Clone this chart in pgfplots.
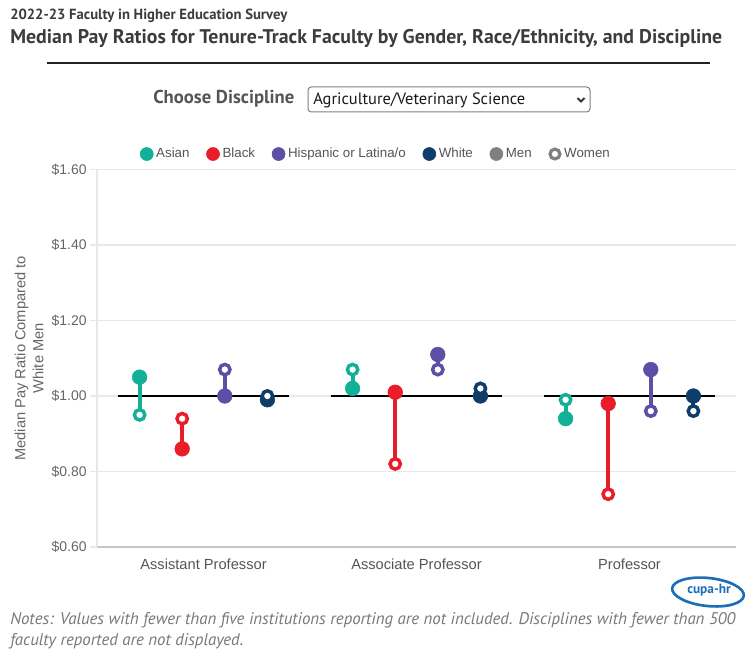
\documentclass[border=0pt]{standalone}
\usepackage{fontspec}
\setmainfont{Liberation Sans}
\newfontfamily\ptsans{PT Sans}
\usepackage{graphicx}
\usepackage{pgfplots}
\pgfplotsset{compat=1.18}
\usepackage{pgfplotstable}

\definecolor{asian}{RGB}{18,176,150}
\definecolor{blackc}{RGB}{232,29,41}
\definecolor{hisp}{RGB}{91,80,165}
\definecolor{whitec}{RGB}{14,61,105}
\definecolor{mengray}{RGB}{128,128,128}
\definecolor{tickgray}{RGB}{102,102,102}
\definecolor{xgray}{RGB}{85,85,85}
\definecolor{gridc}{RGB}{232,232,232}
\definecolor{titlec}{RGB}{60,60,60}
\definecolor{notec}{RGB}{120,120,120}
\definecolor{logoc}{RGB}{30,110,180}

% columns: x position, men ratio, women ratio
\pgfplotstableread{
x men women
-0.3 1.05 0.95
0.7 1.02 1.07
1.7 0.94 0.99
}\asiantab
\pgfplotstableread{
x men women
-0.1 0.86 0.94
0.9 1.01 0.82
1.9 0.98 0.74
}\blacktab
\pgfplotstableread{
x men women
0.1 1.00 1.07
1.1 1.11 1.07
2.1 1.07 0.96
}\hisptab
\pgfplotstableread{
x men women
0.3 0.99 1.00
1.3 1.00 1.02
2.3 1.00 0.96
}\whitetab

\newcommand\stem[2]{%
\addplot[draw=none, mark=none, forget plot,
  error bars/.cd, y dir=plus, y explicit, error mark=none,
  error bar style={line width=3pt, #1}]
  table[x=x, y=men, y error expr=\thisrow{women}-\thisrow{men}] {#2};}
\newcommand\dumbdots[2]{%
\addplot[only marks, mark=*, mark size=5.5pt, #1, forget plot] table[x=x, y=men] {#2};
\addplot[only marks, mark=*, mark size=3.9pt, mark options={draw=#1, fill=white, line width=2.6pt}, forget plot] table[x=x, y=women] {#2};}

\begin{document}
\begin{tikzpicture}
\path[use as bounding box] (0,0) rectangle (559.5pt,-486.75pt);
\begin{axis}[
  at={(72.75pt,-410.25pt)}, anchor=south west,
  scale only axis, width=479.25pt, height=283.125pt,
  xmin=-0.5, xmax=2.5, ymin=0.6, ymax=1.6,
  clip=false,
  axis lines*=left,
  axis line style={-, draw=gridc, line width=0.8pt},
  x axis line style={draw=gray!45},
  xtick={0,1,2},
  xticklabels={Assistant Professor, Associate Professor, Professor},
  xtick style={draw=none},
  ytick={0.6,0.8,1.0,1.2,1.4,1.6},
  yticklabels={\$0.60,\$0.80,\$1.00,\$1.20,\$1.40,\$1.60},
  ytick style={draw=gridc, line width=0.8pt},
  tick align=outside, major tick length=5.25pt,
  ymajorgrids, grid style={draw=gridc, line width=0.8pt},
  /pgf/number format/assume math mode=true,
  yticklabel style={font=\fontsize{10.5}{12}\selectfont, text=tickgray, xshift=1pt},
  xticklabel style={font=\fontsize{11}{13}\selectfont, text=xgray, yshift=0pt},
  ylabel={Median Pay Ratio Compared to\\White Men},
  ylabel style={at={(axis description cs:-0.1064,0.5)}, anchor=center, align=center,
    font=\fontsize{11}{13.5}\selectfont, text=tickgray},
  legend columns=-1,
  legend style={at={(0.437,1.041)}, anchor=center, draw=none, fill=none,
    font=\fontsize{10}{12}\selectfont, text=xgray,
    /tikz/every even column/.append style={column sep=10.5pt}},
  legend image code/.code={\fill (0pt,0pt) circle (4.9pt);},
]
\addplot[black, line width=2pt, forget plot] coordinates {(-0.4,1) (0.4,1)};
\addplot[black, line width=2pt, forget plot] coordinates {(0.6,1) (1.4,1)};
\addplot[black, line width=2pt, forget plot] coordinates {(1.6,1) (2.4,1)};
\stem{asian}{\asiantab}
\stem{blackc}{\blacktab}
\stem{hisp}{\hisptab}
\stem{whitec}{\whitetab}
\dumbdots{asian}{\asiantab}
\dumbdots{blackc}{\blacktab}
\dumbdots{hisp}{\hisptab}
\dumbdots{whitec}{\whitetab}
\addlegendimage{asian}
\addlegendentry{Asian}
\addlegendimage{blackc}
\addlegendentry{Black}
\addlegendimage{hisp}
\addlegendentry{Hispanic or Latina/o}
\addlegendimage{whitec}
\addlegendentry{White}
\addlegendimage{mengray}
\addlegendentry{Men}
\addlegendimage{legend image code/.code={\draw[mengray, line width=2.4pt, fill=white] (0pt,0pt) circle (3.7pt);}}
\addlegendentry{Women}
\end{axis}
\begin{scope}[x=0.75pt, y=-0.75pt]
\node[anchor=west, inner sep=0pt, text=titlec] at (10,16) {\resizebox{207.75pt}{!}{\ptsans\bfseries 2022-23 Faculty in Higher Education Survey}};
\node[anchor=west, inner sep=0pt, text=titlec] at (10,38) {\resizebox{534pt}{!}{\ptsans\bfseries Median Pay Ratios for Tenure-Track Faculty by Gender, Race/Ethnicity, and Discipline}};
\draw[line width=1.9pt, black!87] (47,63) -- (710,63);
\node[anchor=west, inner sep=0pt, text=xgray] at (153,99) {\resizebox{105.75pt}{!}{\ptsans\bfseries Choose Discipline}};
\draw[rounded corners=2.5pt, draw=gray, line width=0.75pt] (308,87) rectangle (590,112);
\node[anchor=west, inner sep=0pt, text=black!90] at (313,100) {\resizebox{159pt}{!}{\ptsans Agriculture/Veterinary Science}};
\draw[line width=1.5pt, black!80] (577.5,98) -- (581,101.5) -- (584.5,98);
\node[anchor=west, inner sep=0pt, text=notec] at (10,620) {\resizebox{543.75pt}{!}{\ptsans\itshape Notes: Values with fewer than five institutions reporting are not included. Disciplines with fewer than 500}};
\node[anchor=west, inner sep=0pt, text=notec] at (10,641) {\resizebox{174.75pt}{!}{\ptsans\itshape faculty reported are not displayed.}};
\draw[logoc, line width=2pt, rotate around={-6:(708,592)}] (708,592) ellipse (36 and 14);
\node[text=logoc, inner sep=0pt] at (709,590) {\fontsize{10}{10}\selectfont\ptsans\bfseries cupa-hr};
\end{scope}
\end{tikzpicture}
\end{document}
